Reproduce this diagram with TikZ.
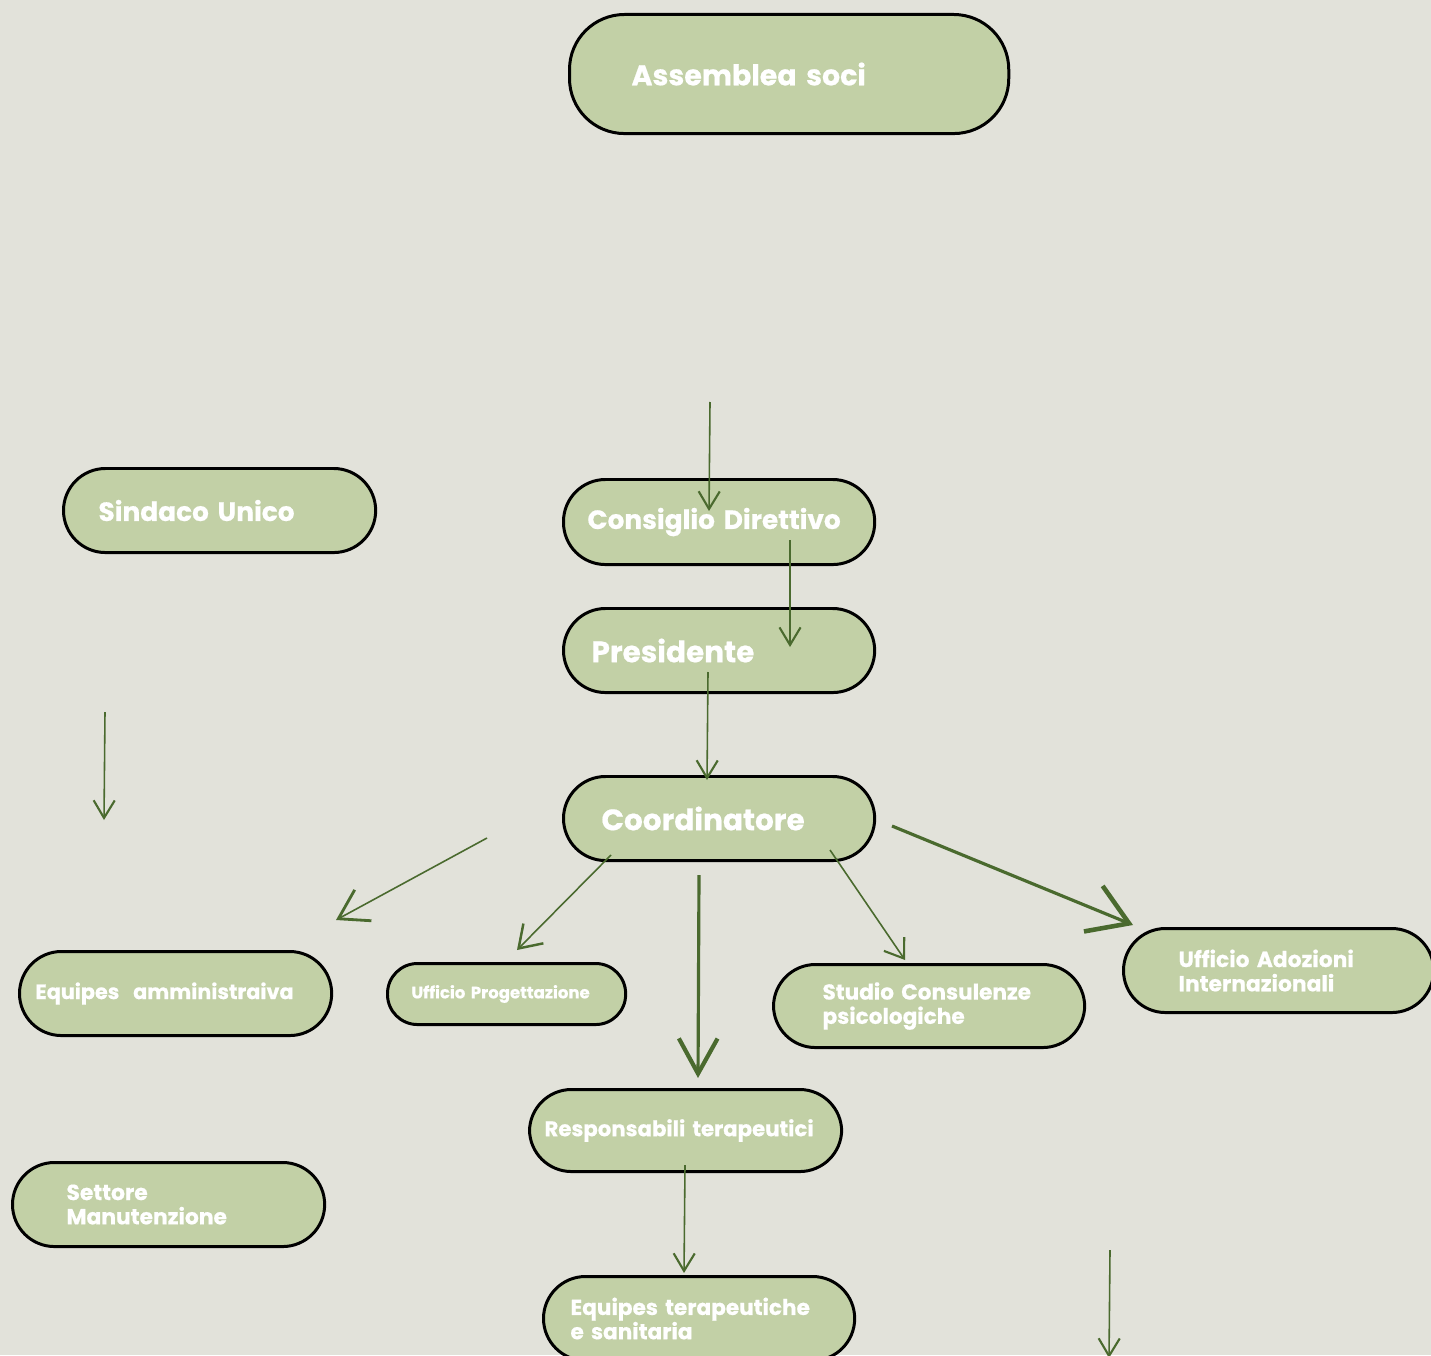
\documentclass[tikz,border=0pt]{standalone}
\usepackage{fontspec}
\setmainfont{Poppins}[BoldFeatures={FakeBold=0.6}]
\usetikzlibrary{positioning, arrows.meta}
\definecolor{bgpaper}{HTML}{E2E2DA}
\definecolor{pillgreen}{HTML}{C2D0A6}
\definecolor{arrowgreen}{HTML}{4A6A2E}

\begin{document}
\begin{tikzpicture}[x=0.01cm, y=-0.01cm,
    pill/.style={draw=black, line width=0.85pt, fill=pillgreen, text=white,
      align=left, anchor=north west, inner ysep=0pt, rounded corners=0.42cm},
    link/.style={draw=arrowgreen, line width=0.45pt,
      -{Straight Barb[length=5pt, width=6pt, line width=0.6pt]}},
    biglink/.style={draw=arrowgreen, line width=0.9pt,
      -{Straight Barb[length=10pt, width=11pt, line width=1.2pt]}}]
  \useasboundingbox (0,0) rectangle (1431,1355);
  \fill[bgpaper] (0,0) rectangle (1431,1355);
  \clip (0,0) rectangle (1431,1355);

  % boxes
  \node[pill, minimum height=1.19cm, text width=3.15cm, inner xsep=0.62cm, rounded corners=0.55cm,
    font=\fontsize{8.1}{9}\selectfont\bfseries] (assemblea) at (568,13) {Assemblea soci};
  \node[pill, minimum height=0.84cm, text width=2.42cm, inner xsep=0.35cm,
    font=\fontsize{7.5}{8}\selectfont\bfseries] (sindaco) at (62,467) {Sindaco Unico};
  \node[pill, minimum height=0.85cm, text width=2.63cm, inner xsep=0.24cm,
    font=\fontsize{7.5}{8}\selectfont\bfseries] (consiglio) at (562,478) {Consiglio Direttivo};
  \node[pill, minimum height=0.84cm, text width=2.55cm, inner xsep=0.28cm,
    font=\fontsize{8.4}{9}\selectfont\bfseries] (presidente) at (562,607) {Presidente};
  \node[pill, minimum height=0.84cm, text width=2.35cm, inner xsep=0.38cm,
    font=\fontsize{8.4}{9}\selectfont\bfseries] (coordinatore) at (562,775) {Coordinatore};
  \node[pill, minimum height=0.84cm, text width=2.80cm, inner xsep=0.16cm,
    font=\fontsize{5.9}{7}\selectfont\bfseries] (amministrativa) at (18,950) {Equipes\ \ amministraiva};
  \node[pill, minimum height=0.61cm, text width=1.90cm, inner xsep=0.24cm, rounded corners=0.3cm,
    font=\fontsize{4.7}{5}\selectfont\bfseries] (progettazione) at (386,962) {Ufficio Progettazione};
  \node[pill, minimum height=0.83cm, text width=2.13cm, inner xsep=0.49cm,
    font=\fontsize{6.15}{6.9}\selectfont\bfseries] (consulenze) at (772,963) {Studio Consulenze\\psicologiche};
  \node[pill, minimum height=0.84cm, text width=2.00cm, inner xsep=0.55cm,
    font=\fontsize{6.2}{6.9}\selectfont\bfseries] (adozioni) at (1122,927) {Ufficio Adozioni\\Internazionali};
  \node[pill, minimum height=0.82cm, text width=2.82cm, inner xsep=0.15cm,
    font=\fontsize{6.05}{7}\selectfont\bfseries] (responsabili) at (528,1088) {Responsabili terapeutici};
  \node[pill, minimum height=0.84cm, text width=2.04cm, inner xsep=0.54cm,
    font=\fontsize{6.2}{6.9}\selectfont\bfseries] (settore) at (11,1161) {Settore\\Manutenzione};
  \node[pill, minimum height=0.84cm, text width=2.57cm, inner xsep=0.27cm,
    font=\fontsize{6.15}{6.9}\selectfont\bfseries] (terapeutiche) at (542,1275) {Equipes terapeutiche\\e sanitaria};

  % arrow ends
  \coordinate (a_1) at (710,402);  \coordinate (a_2) at (709,511);
  \coordinate (b_1) at (790,540);  \coordinate (b_2) at (790,647);
  \coordinate (c_1) at (708,672);  \coordinate (c_2) at (707,780);
  \coordinate (d_1) at (105,712);  \coordinate (d_2) at (104,820);
  \coordinate (e_1) at (487,838);  \coordinate (e_2) at (336,920);
  \coordinate (f_1) at (611,855);  \coordinate (f_2) at (517,950);
  \coordinate (g_1) at (699,875);  \coordinate (g_2) at (698,1078);
  \coordinate (h_1) at (830,850);  \coordinate (h_2) at (905,960);
  \coordinate (i_1) at (892,826);  \coordinate (i_2) at (1133,925);
  \coordinate (j_1) at (685,1165); \coordinate (j_2) at (684,1273);
  \coordinate (k_1) at (1110,1250); \coordinate (k_2) at (1109,1358);

  \draw[link] (a_1) -- (a_2);
  \draw[link] (b_1) -- (b_2);
  \draw[link] (c_1) -- (c_2);
  \draw[link] (d_1) -- (d_2);
  \draw[link, -{Straight Barb[length=8pt, width=10pt, line width=0.8pt]}] (e_1) -- (e_2);
  \draw[link, -{Straight Barb[length=6pt, width=8pt, line width=0.7pt]}] (f_1) -- (f_2);
  \draw[biglink] (g_1) -- (g_2);
  \draw[link, -{Straight Barb[length=5pt, width=7pt, line width=0.6pt]}] (h_1) -- (h_2);
  \draw[biglink, -{Straight Barb[length=11pt, width=14pt, line width=1.3pt]}] (i_1) -- (i_2);
  \draw[link] (j_1) -- (j_2);
  \draw[link] (k_1) -- (k_2);
\end{tikzpicture}
\end{document}
